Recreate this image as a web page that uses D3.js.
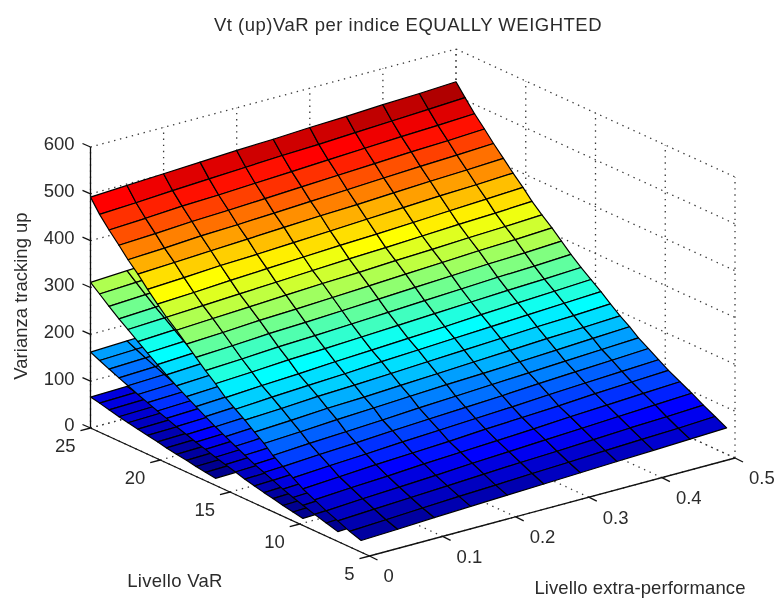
<!DOCTYPE html>
<html>
<head>
<meta charset="utf-8">
<title>Vt (up)VaR per indice EQUALLY WEIGHTED</title>
<style>
body { margin: 0; background: #fff; }
svg { filter: blur(0.35px); }
text { font-family: "Liberation Sans", Arial, sans-serif; font-size: 18.5px; fill: #2b2b2b; }
.grid { fill: none; stroke: #3a3a3a; stroke-width: 1.3px; stroke-dasharray: 1.4,4.7; }
.axis { fill: none; stroke: #111; stroke-width: 1.3px; }
.cell { stroke: #000; stroke-width: 1.2px; stroke-linejoin: round; }
</style>
</head>
<body>
<script src="https://cdn.jsdelivr.net/npm/d3@7"></script>
<script>

var extraLevels = [0, 0.05, 0.1, 0.15, 0.2, 0.25, 0.3, 0.35, 0.4, 0.45, 0.5];

// read off the edges of the surface, the steps are not quite even
var varLevels = [25, 24.35, 23.67, 22.96, 22.31, 21.6, 20.91, 20.2, 19.55, 18.84, 18.12, 17.44, 16.76, 16.04,
                 15.32, 14.61, 13.93, 13.24, 12.56, 11.92, 11.2, 10.48, 9.77, 8.94, 8.1, 7.27, 6.43, 5.6];

var xTicks = [0, 0.1, 0.2, 0.3, 0.4, 0.5];
var yTicks = [5, 10, 15, 20, 25];
var zTicks = [0, 100, 200, 300, 400, 500, 600];

// lowest sheet
var zSheet1 = [
  [66,68,70,72,74,76,78,80,82,84,86],
  [62,64,66,68,70,72,74,76,78,80,82],
  [57,59,61,63,65,67,69,71,73,75,77],
  [52,54,56,58,60,62,64,66,68,70,72],
  [48,50,52,54,56,58,60,62,64,66,68],
  [44,46,48,50,52,54,56,58,60,62,64],
  [40,42,44,46,48,50,52,54,56,58,60],
  [36,38,40,42,44,46,48,50,52,54,56],
  [32,34,36,38,40,42,44,46,48,50,52],
  [28,30,32,34,36,38,40,42,44,46,48],
  [25,27,29,31,33,35,37,39,41,43,45],
  [21,23,25,27,29,31,33,35,37,39,41],
  [18,20,22,24,26,28,30,32,34,36,38],
  [15,17,19,21,23,25,27,29,31,33,35]
];

var zSheet2 = [
  [162,165,168,171,174,177,180,183,186,189,192],
  [153,156,159,162,165,168,171,174,177,180,183],
  [144,147,150,153,156,159,162,165,168,171,174],
  [135,138,141,144,147,150,153,156,159,162,165],
  [127,130,133,136,139,142,145,148,151,154,157],
  [118,121,124,127,130,133,136,139,142,145,148],
  [110,113,116,119,122,125,128,131,134,137,140],
  [102,105,108,111,114,117,120,123,126,129,132],
  [95,98,101,104,107,110,113,116,119,122,125],
  [87,90,93,96,99,102,105,108,111,114,117],
  [80,83,86,89,92,95,98,101,104,107,110],
  [73,76,79,82,85,88,91,94,97,100,103],
  [67,70,73,76,79,82,85,88,91,94,97],
  [60,63,66,69,72,75,78,81,84,87,90],
  [54,57,60,63,66,69,72,75,78,81,84],
  [48,51,54,57,60,63,66,69,72,75,78],
  [42,45,48,51,54,57,60,63,66,69,72],
  [37,40,43,46,49,52,55,58,61,64,67],
  [32,35,38,41,44,47,50,53,56,59,62],
  [28,31,34,37,40,43,46,49,52,55,58],
  [23,26,29,32,35,38,41,44,47,50,53],
  [19,22,25,28,31,34,37,40,43,46,49],
  [15,18,21,24,27,30,33,36,39,42,45]
];

var zSheet3 = [
  [311,315,319,323,327,331,335,339,343,347,351],
  [295,299,303,307,311,315,319,323,327,331,335],
  [278,282,286,290,294,298,302,306,310,314,318],
  [261,265,269,273,277,281,285,289,293,297,301],
  [247,251,255,259,263,267,271,275,279,283,287],
  [231,235,239,243,247,251,255,259,263,267,271],
  [216,220,224,228,232,236,240,244,248,252,256],
  [201,205,209,213,217,221,225,229,233,237,241],
  [188,192,196,200,204,208,212,216,220,224,228],
  [174,178,182,186,190,194,198,202,206,210,214],
  [161,165,169,173,177,181,185,189,193,197,201],
  [149,153,157,161,165,169,173,177,181,185,189],
  [137,141,145,149,153,157,161,165,169,173,177],
  [125,129,133,137,141,145,149,153,157,161,165],
  [114,118,122,126,130,134,138,142,146,150,154],
  [103,107,111,115,119,123,127,131,135,139,143],
  [93,97,101,105,109,113,117,121,125,129,133],
  [83,87,91,95,99,103,107,111,115,119,123],
  [75,79,83,87,91,95,99,103,107,111,115],
  [67,71,75,79,83,87,91,95,99,103,107],
  [58,62,66,70,74,78,82,86,90,94,98],
  [50,54,58,62,66,70,74,78,82,86,90],
  [43,47,51,55,59,63,67,71,75,79,83],
  [35,39,43,47,51,55,59,63,67,71,75],
  [28,32,36,40,44,48,52,56,60,64,68],
  [21,25,29,33,37,41,45,49,53,57,61]
];

// top sheet, the one fully visible
var zSheet4 = [
  [493,497,501,505,509,512,516,519,523,526,530],
  [465,469,474,478,482,486,489,493,497,501,505],
  [441,445,450,453,457,461,465,469,473,476,480],
  [418,422,427,430,434,438,442,446,450,453,457],
  [396,400,405,408,412,416,420,424,428,431,435],
  [375,379,383,387,391,395,398,402,406,409,413],
  [352,356,361,364,368,372,376,380,384,387,391],
  [330,334,339,343,347,351,354,358,362,366,370],
  [311,315,319,323,327,331,334,338,342,345,349],
  [293,297,301,305,309,312,316,319,323,326,330],
  [273,277,282,285,289,293,297,301,305,308,312],
  [254,258,263,266,270,274,278,282,286,289,293],
  [235,239,244,247,251,255,259,263,267,270,274],
  [217,221,226,229,233,237,241,245,249,252,256],
  [197,202,206,211,215,219,223,228,232,236,240],
  [182,187,191,195,200,204,208,212,216,220,224],
  [168,172,177,180,184,188,192,196,200,203,207],
  [152,156,161,164,168,172,176,180,184,187,191],
  [137,141,146,150,154,158,161,165,169,173,177],
  [120,125,129,133,138,142,146,150,154,158,162],
  [106,111,115,120,124,128,132,137,141,145,149],
  [92,97,101,106,110,114,118,123,127,131,135],
  [78,83,88,92,96,101,105,109,114,118,122],
  [66,71,75,80,84,88,92,97,101,105,109],
  [54,59,63,67,72,76,80,84,88,92,96],
  [44,48,52,56,60,64,67,71,75,78,82],
  [33,37,41,45,48,52,55,59,62,65,69],
  [25,28,32,35,38,41,44,47,50,53,56]
];

var sheets = [zSheet1, zSheet2, zSheet3, zSheet4];

var width = 776, height = 598;

// 3D box projection, each data axis moves the point along its own screen direction
var xToSx = d3.scaleLinear().domain([0, 0.5]).range([0, 365.5]);
var xToSy = d3.scaleLinear().domain([0, 0.5]).range([0, -98]);
var yToSx = d3.scaleLinear().domain([5, 25]).range([369.5, 90.5]);
var yToSy = d3.scaleLinear().domain([5, 25]).range([556, 428]);
var zToSy = d3.scaleLinear().domain([0, 600]).range([0, -281]);

function project(x, y, z) {
  return [xToSx(x) + yToSx(y), xToSy(x) + yToSy(y) + zToSy(z)];
}

var line = d3.line();

// jet colormap, 64 levels like matlab
var jet = d3.scaleLinear()
    .domain([0, 0.125, 0.375, 0.625, 0.875, 1])
    .range(["#000080", "#0000ff", "#00ffff", "#ffff00", "#ff0000", "#800000"]);

var color = d3.scaleQuantize()
    .domain(d3.extent(sheets.flat(2)))
    .range(d3.range(1, 65).map(function(i) { return jet(i / 64); }));

var svg = d3.select("body").append("svg")
    .attr("width", width)
    .attr("height", height);

// dotted grid on the two back walls and the floor
var gridLines = [];
xTicks.forEach(function(x) {
  gridLines.push([project(x, 25, 0), project(x, 25, 600)]);
  gridLines.push([project(x, 5, 0), project(x, 25, 0)]);
});
yTicks.forEach(function(y) {
  gridLines.push([project(0.5, y, 0), project(0.5, y, 600)]);
  gridLines.push([project(0, y, 0), project(0.5, y, 0)]);
});
zTicks.forEach(function(z) {
  gridLines.push([project(0, 25, z), project(0.5, 25, z)]);
  gridLines.push([project(0.5, 25, z), project(0.5, 5, z)]);
});

svg.append("g")
  .selectAll("path")
  .data(gridLines)
  .enter().append("path")
    .attr("class", "grid")
    .attr("d", line);

// the sheets, lowest first so the top one covers the others
sheets.forEach(function(zs) {
  var cells = [];
  for (var r = 0; r < zs.length - 1; r++) {
    for (var c = 0; c < extraLevels.length - 1; c++) {
      cells.push({
        // facet colour comes from the corner with the lowest x and y
        z: zs[r + 1][c],
        pts: [
          project(extraLevels[c], varLevels[r], zs[r][c]),
          project(extraLevels[c + 1], varLevels[r], zs[r][c + 1]),
          project(extraLevels[c + 1], varLevels[r + 1], zs[r + 1][c + 1]),
          project(extraLevels[c], varLevels[r + 1], zs[r + 1][c])
        ]
      });
    }
  }
  svg.append("g")
    .selectAll("path")
    .data(cells)
    .enter().append("path")
      .attr("class", "cell")
      .attr("fill", function(d) { return color(d.z); })
      .attr("d", function(d) { return line(d.pts) + "Z"; });
});

// solid axes
var axisLines = [
  [project(0, 25, 0), project(0, 25, 600)],
  [project(0, 5, 0), project(0, 25, 0)],
  [project(0, 5, 0), project(0.5, 5, 0)]
];

// ticks stick out along the box edges
zTicks.forEach(function(z) {
  var p = project(0, 25, z);
  axisLines.push([p, [p[0] - 8, p[1] - 3.5]]);
});
yTicks.forEach(function(y) {
  var p = project(0, y, 0);
  axisLines.push([p, [p[0] - 10, p[1] + 2.6]]);
});
xTicks.forEach(function(x) {
  var p = project(x, 5, 0);
  axisLines.push([p, [p[0] + 8, p[1] + 4]]);
});

svg.append("g")
  .selectAll("path")
  .data(axisLines)
  .enter().append("path")
    .attr("class", "axis")
    .attr("d", line);

// tick labels
svg.append("g").selectAll("text")
  .data(zTicks)
  .enter().append("text")
    .attr("text-anchor", "end")
    .attr("dy", "0.35em")
    .attr("x", function(d) { return project(0, 25, d)[0] - 16; })
    .attr("y", function(d) { return project(0, 25, d)[1] - 3; })
    .text(function(d) { return d; });

svg.append("g").selectAll("text")
  .data(yTicks)
  .enter().append("text")
    .attr("text-anchor", "end")
    .attr("dy", "0.35em")
    .attr("x", function(d) { return project(0, d, 0)[0] - 15; })
    .attr("y", function(d) { return project(0, d, 0)[1] + 18; })
    .text(function(d) { return d; });

svg.append("g").selectAll("text")
  .data(xTicks)
  .enter().append("text")
    .attr("text-anchor", "start")
    .attr("dy", "0.35em")
    .attr("x", function(d) { return project(d, 5, 0)[0] + 14; })
    .attr("y", function(d) { return project(d, 5, 0)[1] + 20; })
    .text(function(d) { return d; });

// titles
svg.append("text")
    .attr("text-anchor", "middle")
    .attr("dy", "0.35em")
    .attr("x", 408)
    .attr("y", 25)
    .style("letter-spacing", "0.5px")
    .text("Vt (up)VaR per indice EQUALLY WEIGHTED");

svg.append("text")
    .attr("text-anchor", "middle")
    .attr("dy", "0.35em")
    .attr("x", 175)
    .attr("y", 581)
    .style("letter-spacing", "0.3px")
    .text("Livello VaR");

svg.append("text")
    .attr("text-anchor", "middle")
    .attr("dy", "0.35em")
    .attr("x", 640)
    .attr("y", 588)
    .style("letter-spacing", "0.1px")
    .text("Livello extra-performance");

svg.append("text")
    .attr("text-anchor", "middle")
    .attr("dy", "0.35em")
    .attr("transform", "translate(21,296) rotate(-90)")
    .text("Varianza tracking up");

</script>
</body>
</html>
